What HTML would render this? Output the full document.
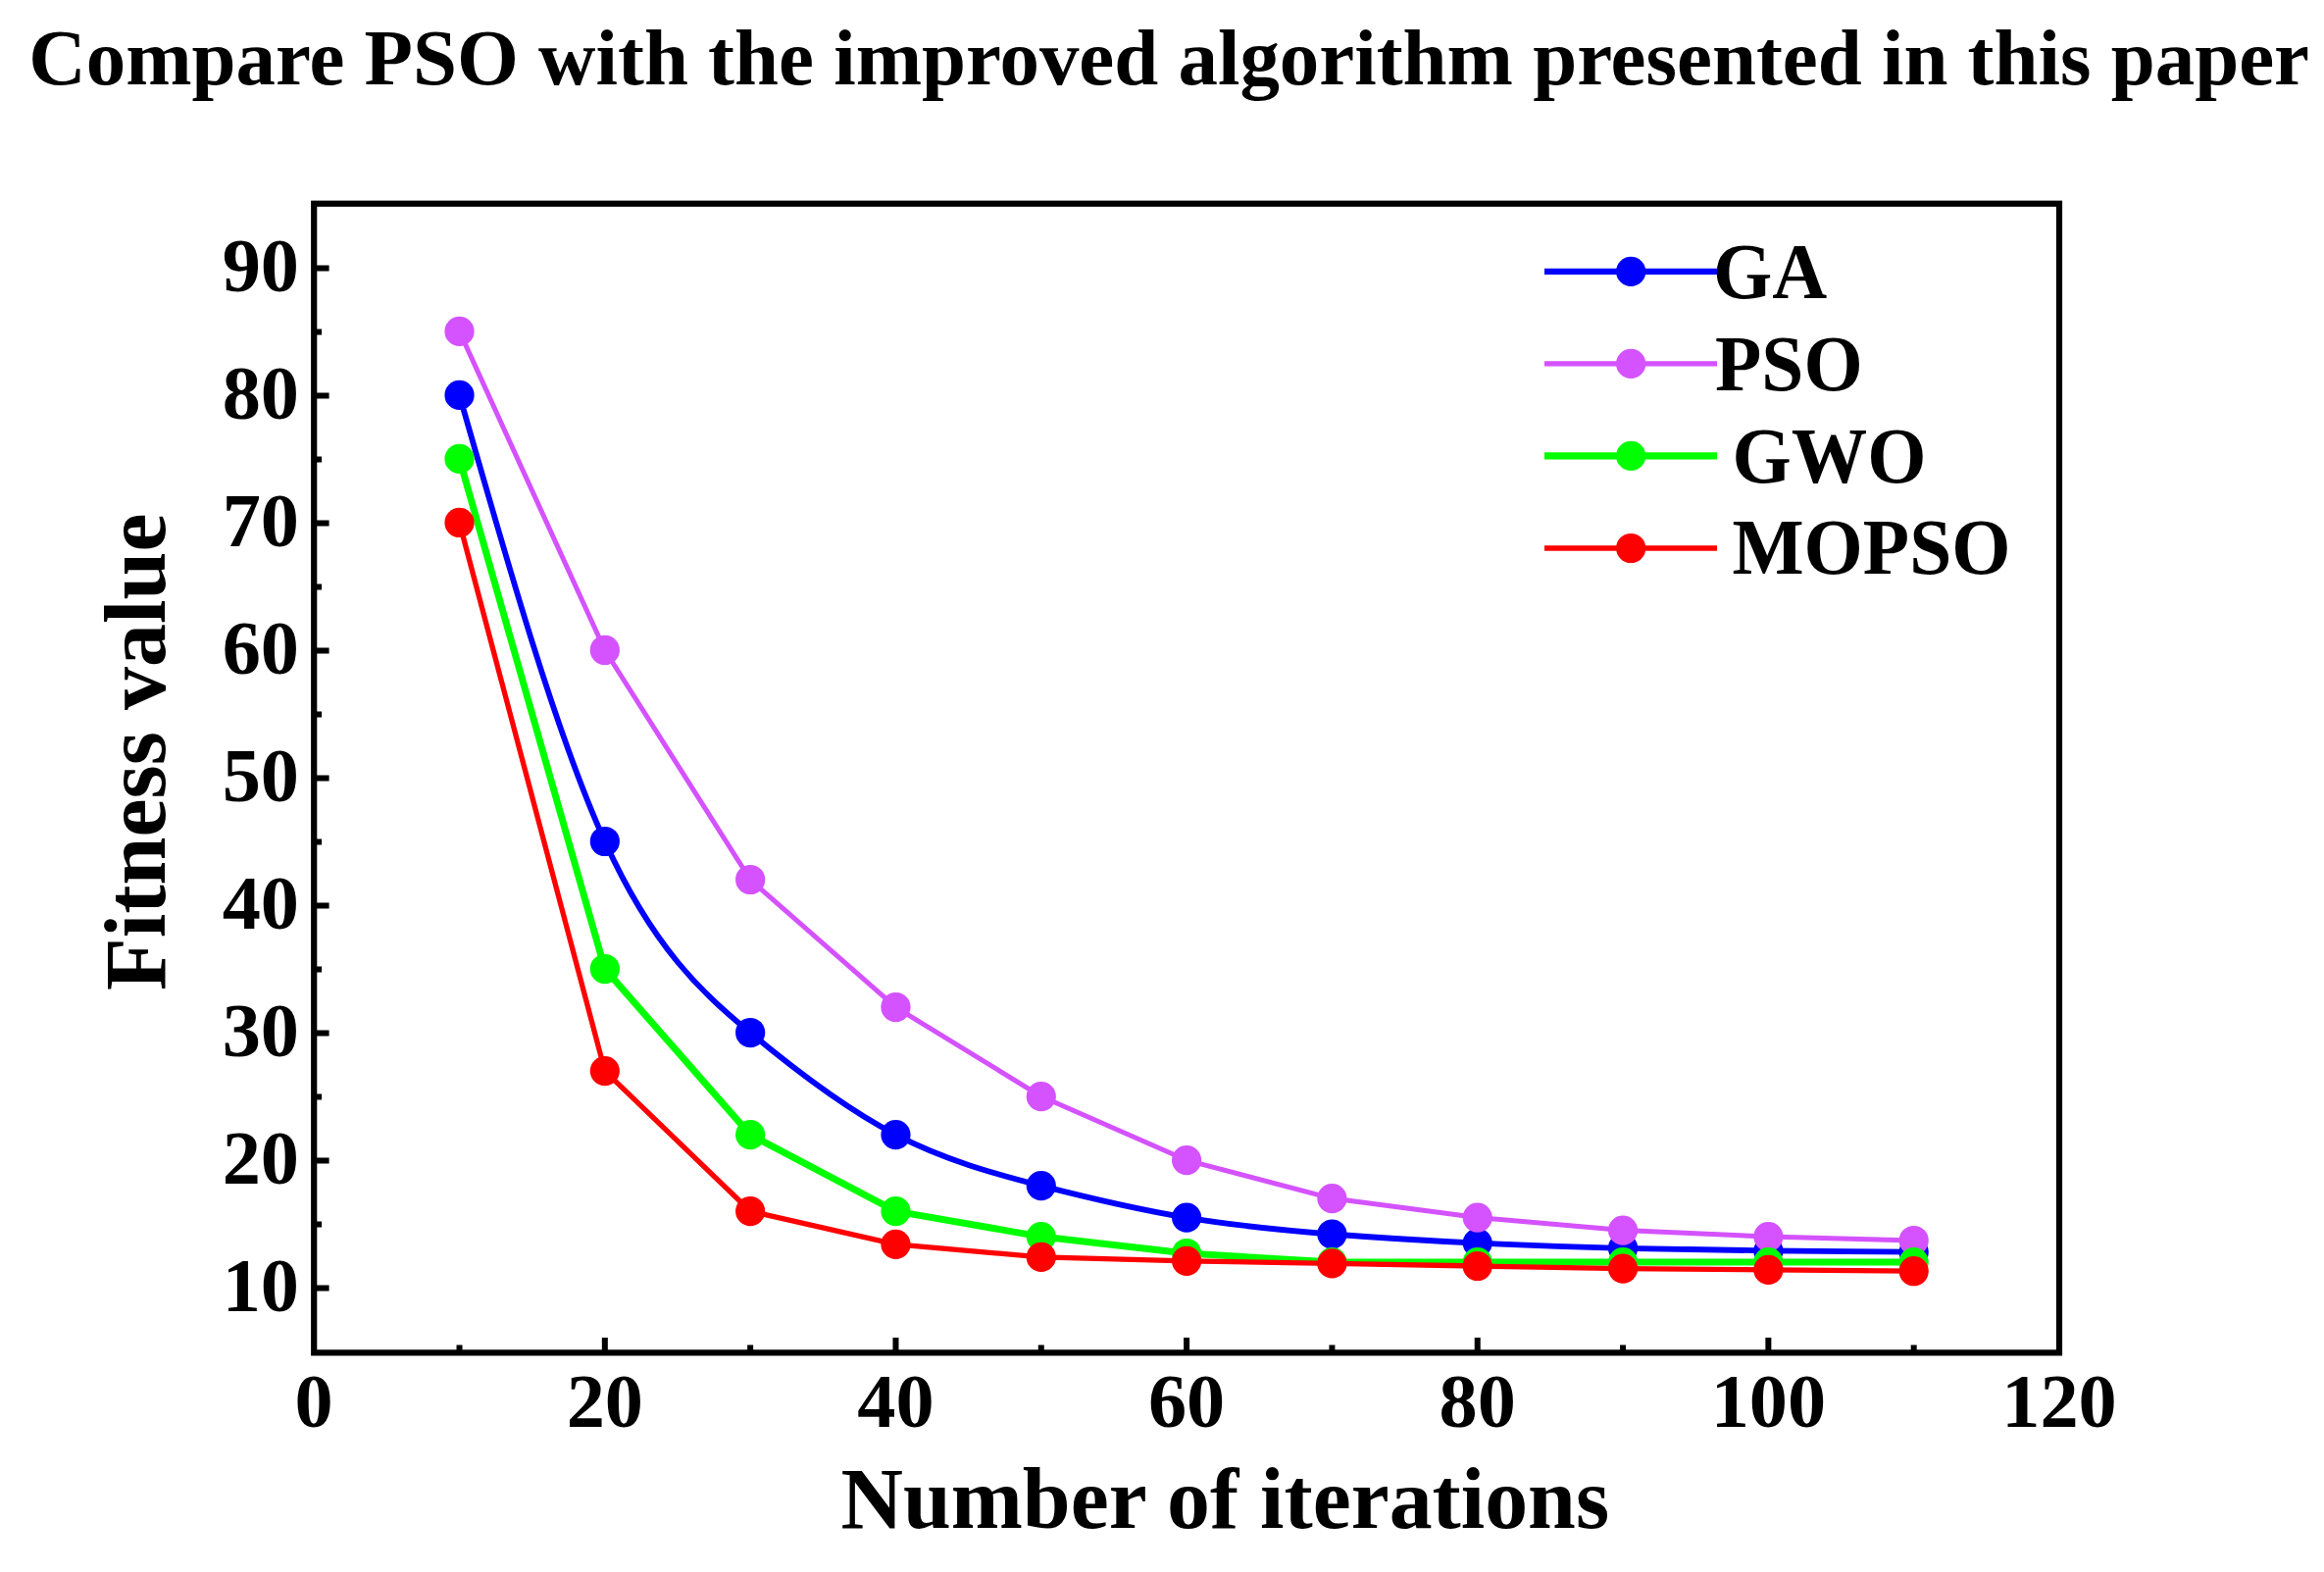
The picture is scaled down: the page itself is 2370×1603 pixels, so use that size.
<!DOCTYPE html>
<html lang="en"><head><meta charset="utf-8"><title>Compare PSO with the improved algorithm presented in this paper</title>
<style>
html,body{margin:0;padding:0;background:#fff;}
body{width:2370px;height:1603px;overflow:hidden;}
svg{display:block;}
text{white-space:pre;}
</style></head><body>
<svg width="2370" height="1603" viewBox="0 0 2370 1603">
<rect width="2370" height="1603" fill="#fff"/>
<path d="M468.52 402.92 C517.96 575.98 567.39 749.03 616.83 858.01 C666.27 967.00 715.71 1011.92 765.15 1053.05 C814.59 1094.18 864.03 1131.52 913.47 1157.07 C962.91 1182.62 1012.34 1196.39 1061.78 1209.08 C1111.22 1221.77 1160.66 1233.37 1210.10 1241.59 C1259.54 1249.80 1308.98 1254.62 1358.42 1258.49 C1407.86 1262.36 1457.29 1265.29 1506.73 1267.59 C1556.17 1269.89 1605.61 1271.56 1655.05 1272.79 C1704.49 1274.02 1753.93 1274.82 1803.37 1275.39 C1852.81 1275.97 1902.24 1276.33 1951.68 1276.69" fill="none" stroke="#0000ff" stroke-width="5.80" stroke-linejoin="round" stroke-linecap="round"/>
<circle cx="468.52" cy="402.92" r="15.10" fill="#0000ff"/>
<circle cx="616.83" cy="858.01" r="15.10" fill="#0000ff"/>
<circle cx="765.15" cy="1053.05" r="15.10" fill="#0000ff"/>
<circle cx="913.47" cy="1157.07" r="15.10" fill="#0000ff"/>
<circle cx="1061.78" cy="1209.08" r="15.10" fill="#0000ff"/>
<circle cx="1210.10" cy="1241.59" r="15.10" fill="#0000ff"/>
<circle cx="1358.42" cy="1258.49" r="15.10" fill="#0000ff"/>
<circle cx="1506.73" cy="1267.59" r="15.10" fill="#0000ff"/>
<circle cx="1655.05" cy="1272.79" r="15.10" fill="#0000ff"/>
<circle cx="1803.37" cy="1275.39" r="15.10" fill="#0000ff"/>
<circle cx="1951.68" cy="1276.69" r="15.10" fill="#0000ff"/>
<path d="M468.52 337.91 L616.83 662.97 L765.15 897.02 L913.47 1027.04 L1061.78 1118.06 L1210.10 1183.07 L1358.42 1222.08 L1506.73 1241.59 L1655.05 1254.59 L1803.37 1261.09 L1951.68 1264.99" fill="none" stroke="#d452ff" stroke-width="5.00" stroke-linejoin="round" stroke-linecap="round"/>
<circle cx="468.52" cy="337.91" r="15.10" fill="#d452ff"/>
<circle cx="616.83" cy="662.97" r="15.10" fill="#d452ff"/>
<circle cx="765.15" cy="897.02" r="15.10" fill="#d452ff"/>
<circle cx="913.47" cy="1027.04" r="15.10" fill="#d452ff"/>
<circle cx="1061.78" cy="1118.06" r="15.10" fill="#d452ff"/>
<circle cx="1210.10" cy="1183.07" r="15.10" fill="#d452ff"/>
<circle cx="1358.42" cy="1222.08" r="15.10" fill="#d452ff"/>
<circle cx="1506.73" cy="1241.59" r="15.10" fill="#d452ff"/>
<circle cx="1655.05" cy="1254.59" r="15.10" fill="#d452ff"/>
<circle cx="1803.37" cy="1261.09" r="15.10" fill="#d452ff"/>
<circle cx="1951.68" cy="1264.99" r="15.10" fill="#d452ff"/>
<path d="M468.52 467.94 L616.83 988.04 L765.15 1157.07 L913.47 1235.08 L1061.78 1261.09 L1210.10 1277.99 L1358.42 1287.09 L1506.73 1287.09 L1655.05 1287.09 L1803.37 1287.09 L1951.68 1287.09" fill="none" stroke="#00ff00" stroke-width="7.00" stroke-linejoin="round" stroke-linecap="round"/>
<circle cx="468.52" cy="467.94" r="15.10" fill="#00ff00"/>
<circle cx="616.83" cy="988.04" r="15.10" fill="#00ff00"/>
<circle cx="765.15" cy="1157.07" r="15.10" fill="#00ff00"/>
<circle cx="913.47" cy="1235.08" r="15.10" fill="#00ff00"/>
<circle cx="1061.78" cy="1261.09" r="15.10" fill="#00ff00"/>
<circle cx="1210.10" cy="1277.99" r="15.10" fill="#00ff00"/>
<circle cx="1358.42" cy="1287.09" r="15.10" fill="#00ff00"/>
<circle cx="1506.73" cy="1287.09" r="15.10" fill="#00ff00"/>
<circle cx="1655.05" cy="1287.09" r="15.10" fill="#00ff00"/>
<circle cx="1803.37" cy="1287.09" r="15.10" fill="#00ff00"/>
<circle cx="1951.68" cy="1287.09" r="15.10" fill="#00ff00"/>
<path d="M468.52 532.95 L616.83 1092.06 L765.15 1235.08 L913.47 1268.89 L1061.78 1281.89 L1210.10 1285.79 L1358.42 1288.40 L1506.73 1291.00 L1655.05 1293.60 L1803.37 1294.90 L1951.68 1296.20" fill="none" stroke="#ff0000" stroke-width="5.30" stroke-linejoin="round" stroke-linecap="round"/>
<circle cx="468.52" cy="532.95" r="15.10" fill="#ff0000"/>
<circle cx="616.83" cy="1092.06" r="15.10" fill="#ff0000"/>
<circle cx="765.15" cy="1235.08" r="15.10" fill="#ff0000"/>
<circle cx="913.47" cy="1268.89" r="15.10" fill="#ff0000"/>
<circle cx="1061.78" cy="1281.89" r="15.10" fill="#ff0000"/>
<circle cx="1210.10" cy="1285.79" r="15.10" fill="#ff0000"/>
<circle cx="1358.42" cy="1288.40" r="15.10" fill="#ff0000"/>
<circle cx="1506.73" cy="1291.00" r="15.10" fill="#ff0000"/>
<circle cx="1655.05" cy="1293.60" r="15.10" fill="#ff0000"/>
<circle cx="1803.37" cy="1294.90" r="15.10" fill="#ff0000"/>
<circle cx="1951.68" cy="1296.20" r="15.10" fill="#ff0000"/>
<rect x="320.20" y="207.70" width="1779.80" height="1171.70" fill="none" stroke="#000" stroke-width="6.20"/>
<path d="M322.30 1313.60h13.30 M322.30 1183.57h13.30 M322.30 1053.55h13.30 M322.30 923.52h13.30 M322.30 793.50h13.30 M322.30 663.47h13.30 M322.30 533.45h13.30 M322.30 403.42h13.30 M322.30 273.40h13.30 M322.30 1248.59h5.80 M322.30 1118.56h5.80 M322.30 988.54h5.80 M322.30 858.51h5.80 M322.30 728.49h5.80 M322.30 598.46h5.80 M322.30 468.44h5.80 M322.30 338.41h5.80 M616.83 1377.30v-13.30 M913.47 1377.30v-13.30 M1210.10 1377.30v-13.30 M1506.73 1377.30v-13.30 M1803.37 1377.30v-13.30 M468.52 1377.30v-5.80 M765.15 1377.30v-5.80 M1061.78 1377.30v-5.80 M1358.42 1377.30v-5.80 M1655.05 1377.30v-5.80 M1951.68 1377.30v-5.80" stroke="#000" stroke-width="6.00" fill="none"/>
<path d="M1575.00 276.90H1751.00" stroke="#0000ff" stroke-width="6.10"/>
<circle cx="1663.20" cy="276.90" r="15.10" fill="#0000ff"/>
<path d="M1575.00 370.90H1751.00" stroke="#d452ff" stroke-width="5.30"/>
<circle cx="1663.20" cy="370.90" r="15.10" fill="#d452ff"/>
<path d="M1575.00 464.90H1751.00" stroke="#00ff00" stroke-width="7.30"/>
<circle cx="1663.20" cy="464.90" r="15.10" fill="#00ff00"/>
<path d="M1575.00 559.00H1751.00" stroke="#ff0000" stroke-width="5.60"/>
<circle cx="1663.20" cy="559.00" r="15.10" fill="#ff0000"/>
<g font-family="'Liberation Serif', 'Times New Roman', Times, serif" font-weight="bold" fill="#000">
<text transform="translate(29.30 85.90)" font-size="80.90" text-anchor="start">Compare PSO with the improved algorithm presented in this paper</text>
<text transform="translate(305.00 1337.00)" font-size="78.30" text-anchor="end">10</text>
<text transform="translate(305.00 1206.97)" font-size="78.30" text-anchor="end">20</text>
<text transform="translate(305.00 1076.95)" font-size="78.30" text-anchor="end">30</text>
<text transform="translate(305.00 946.92)" font-size="78.30" text-anchor="end">40</text>
<text transform="translate(305.00 816.90)" font-size="78.30" text-anchor="end">50</text>
<text transform="translate(305.00 686.87)" font-size="78.30" text-anchor="end">60</text>
<text transform="translate(305.00 556.85)" font-size="78.30" text-anchor="end">70</text>
<text transform="translate(305.00 426.82)" font-size="78.30" text-anchor="end">80</text>
<text transform="translate(305.00 296.80)" font-size="78.30" text-anchor="end">90</text>
<text transform="translate(320.20 1455.30)" font-size="78.30" text-anchor="middle">0</text>
<text transform="translate(616.83 1455.30)" font-size="78.30" text-anchor="middle">20</text>
<text transform="translate(913.47 1455.30)" font-size="78.30" text-anchor="middle">40</text>
<text transform="translate(1210.10 1455.30)" font-size="78.30" text-anchor="middle">60</text>
<text transform="translate(1506.73 1455.30)" font-size="78.30" text-anchor="middle">80</text>
<text transform="translate(1803.37 1455.30)" font-size="78.30" text-anchor="middle">100</text>
<text transform="translate(2100.00 1455.30)" font-size="78.30" text-anchor="middle">120</text>
<text transform="translate(1747.00 303.70) scale(1 1.025)" font-size="77.50" text-anchor="start">GA</text>
<text transform="translate(1749.00 398.00) scale(1 1.025)" font-size="77.50" text-anchor="start">PSO</text>
<text transform="translate(1766.40 491.60) scale(1 1.025)" font-size="77.50" text-anchor="start">GWO</text>
<text transform="translate(1766.40 585.00) scale(1 1.025)" font-size="77.50" text-anchor="start">MOPSO</text>
<text transform="translate(857.50 1557.50)" font-size="87.80" text-anchor="start">Number of iterations</text>
<text transform="translate(168.00 1010.00) rotate(-90)" font-size="88.00" text-anchor="start">Fitness value</text>
</g>
</svg>
</body></html>
